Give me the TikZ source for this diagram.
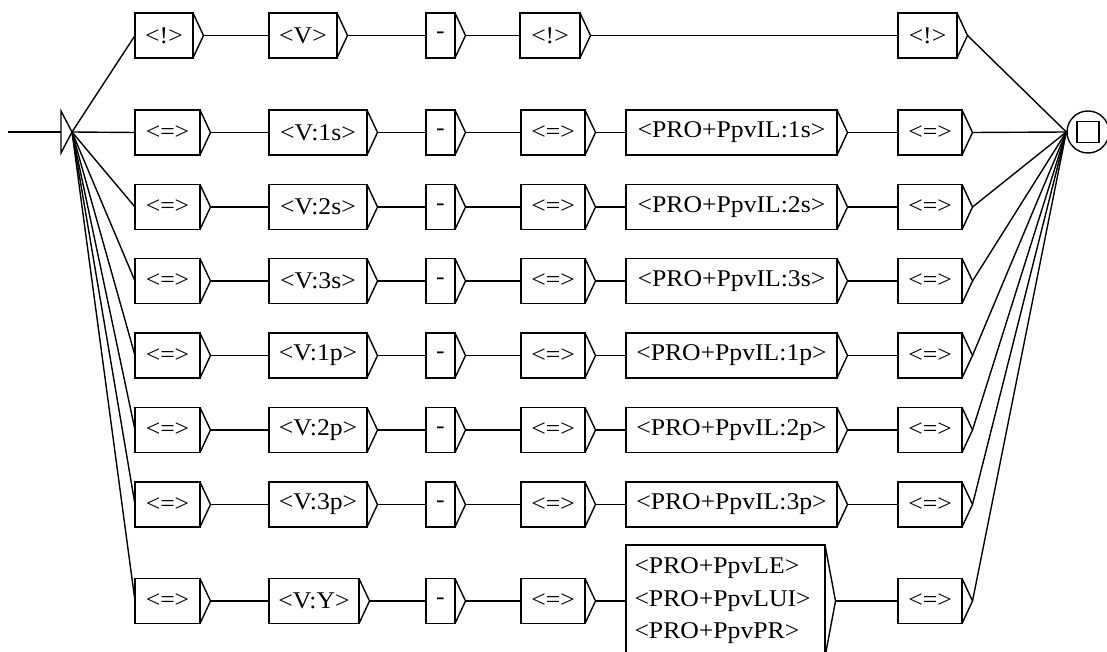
\documentclass[tikz,border=0pt]{standalone}
\usepackage{fontspec}
\setmainfont{Liberation Serif}[FakeStretch=1.07]
\tikzset{
  box/.style={draw, line width=1.4pt, rectangle, inner sep=0pt, outer sep=0pt,
    minimum height=45pt, font=\fontsize{24}{32.5}\selectfont},
  edge/.style={line width=1.4pt},
}
\newcommand{\ubox}[5]{%
  \node[box, minimum width={(#3)-(#2)}] (#1) at ({((#2)+(#3))/2},#4) {#5};
  \coordinate (#1-t) at ([xshift=10.5pt]#1.east);
  \draw[edge] (#1.north east) -- (#1-t) -- (#1.south east);
}
\begin{document}
\begin{tikzpicture}[x=1pt,y=-1pt]
\useasboundingbox (0,0) rectangle (1107,652);
% initial state
\coordinate (start) at (8,132);
\coordinate (initL) at (61,132);
\coordinate (init) at (72,132);
\draw[edge] (start) -- (initL);
\draw[edge] (61,111) -- (init) -- (61,153) -- cycle;
% final state
\node[draw, circle, line width=1.4pt, minimum size=42pt, inner sep=0pt] (fin) at (1088,132) {};
\node[draw, line width=1.4pt, minimum width=22pt, minimum height=21pt, inner sep=0pt] (finsq) at (fin.center) {};
% row 0
\ubox{a0}{135}{193}{35.5}{<!>}
\ubox{b0}{269}{337}{35.5}{<V>}
\ubox{c0}{426}{455}{35.5}{-}
\ubox{d0}{520}{580}{35.5}{<!>}
\ubox{f0}{898}{957}{35.5}{<!>}
\draw[edge] (init) -- (a0.west);
\draw[edge] (a0-t) -- (b0.west);
\draw[edge] (b0-t) -- (c0.west);
\draw[edge] (c0-t) -- (d0.west);
\draw[edge] (d0-t) -- (f0.west);
\draw[edge] (f0-t) -- (fin.west);
% rows 1-6
\foreach \r/\y/\s in {1/132.5/1s, 2/207/2s, 3/281/3s, 4/355.5/1p, 5/430/2p, 6/504.5/3p} {
  \ubox{a\r}{135}{200}{\y}{<=>}
  \ubox{b\r}{269}{367}{\y}{<V:\s>}
  \ubox{c\r}{426}{455}{\y}{-}
  \ubox{d\r}{521}{585}{\y}{<=>}
  \ubox{e\r}{626}{837}{\y}{<PRO+PpvIL:\s>}
  \ubox{f\r}{898}{962}{\y}{<=>}
  \draw[edge] (init) -- (a\r.west);
  \draw[edge] (a\r-t) -- (b\r.west);
  \draw[edge] (b\r-t) -- (c\r.west);
  \draw[edge] (c\r-t) -- (d\r.west);
  \draw[edge] (d\r-t) -- (e\r.west);
  \draw[edge] (e\r-t) -- (f\r.west);
  \draw[edge] (f\r-t) -- (fin.west);
}
% row 7
\ubox{a7}{135}{200}{601}{<=>}
\ubox{b7}{269}{359}{601}{<V:Y>}
\ubox{c7}{426}{455}{601}{-}
\ubox{d7}{521}{585}{601}{<=>}
\node[box, minimum width=199pt, minimum height=112pt, align=left, text width=182pt] (e7) at (725.5,601) {<PRO+PpvLE>\\<PRO+PpvLUI>\\<PRO+PpvPR>};
\coordinate (e7-t) at ([xshift=10.5pt]e7.east);
\draw[edge] (e7.north east) -- (e7-t) -- (e7.south east);
\ubox{f7}{898}{962}{601}{<=>}
\draw[edge] (init) -- (a7.west);
\draw[edge] (a7-t) -- (b7.west);
\draw[edge] (b7-t) -- (c7.west);
\draw[edge] (c7-t) -- (d7.west);
\draw[edge] (d7-t) -- (e7.west);
\draw[edge] (e7-t) -- (f7.west);
\draw[edge] (f7-t) -- (fin.west);
\end{tikzpicture}
\end{document}
